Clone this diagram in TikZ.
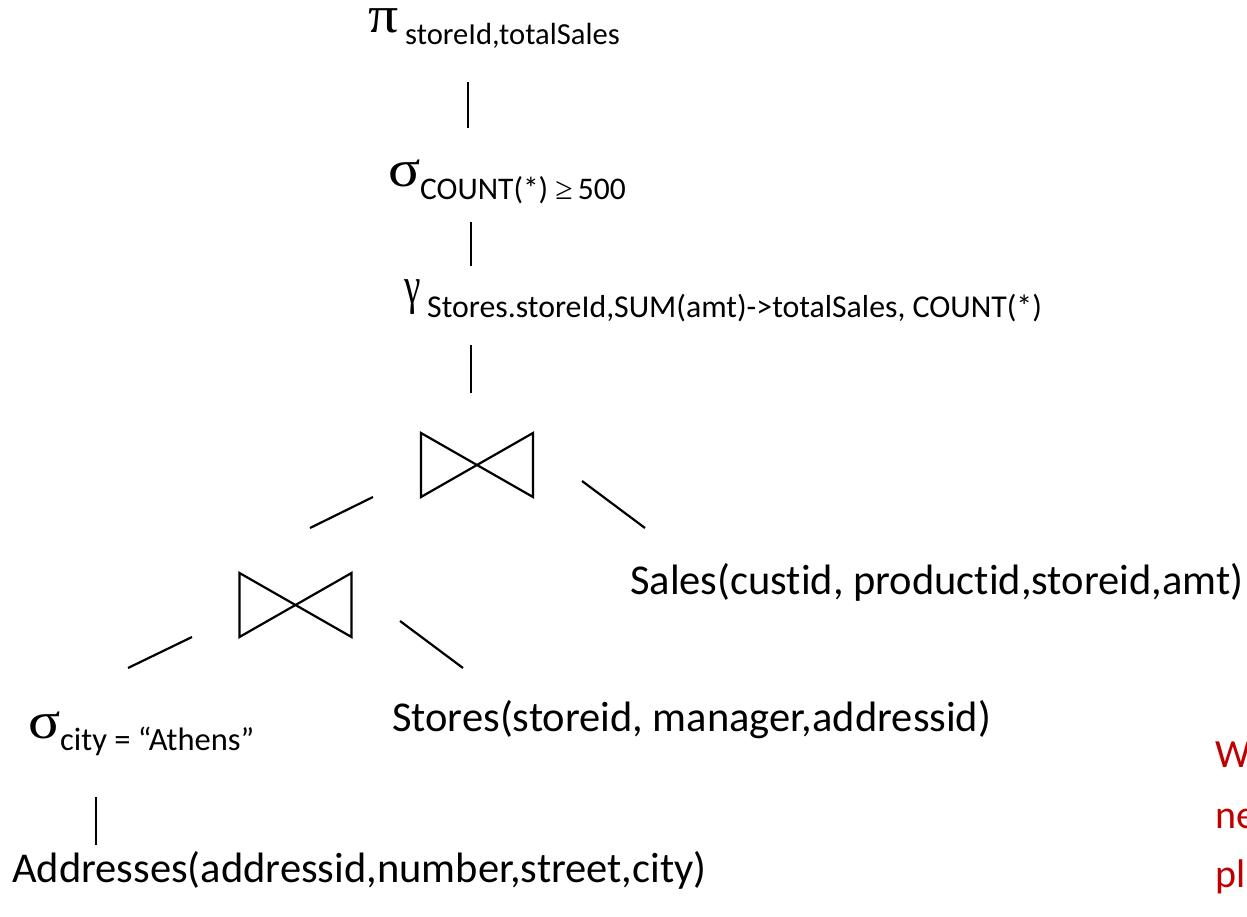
\documentclass[tikz,border=0pt]{standalone}
\usepackage{fontspec}
\setmainfont{Carlito}[Ligatures=NoCommon]
\newfontfamily\greekfont{Liberation Serif}
\definecolor{noteRed}{HTML}{C00000}
\begin{document}
\begin{tikzpicture}[x=1pt,y=-1pt,
  txt/.style={anchor=base west,inner sep=0pt,font=\fontsize{42.5}{50}\selectfont},
  opsym/.style={anchor=base west,inner sep=0pt,xscale=1.15,text height=24pt,
    font=\greekfont\fontsize{52}{52}\selectfont},
  opsub/.style={anchor=base west,inner sep=0pt,font=\fontsize{#1}{#1}\selectfont},
  note/.style={anchor=base west,inner sep=0pt,text=noteRed,font=\fontsize{40}{48}\selectfont},
  edge/.style={line width=2.2pt},
  joinbox/.style={minimum width=112pt,minimum height=64pt,inner sep=0pt,outer sep=0pt},
  bowtie/.style={line width=2.2pt,line join=miter}]
\useasboundingbox (0,0) rectangle (1247,917);

% operators: Greek symbol and its subscript
\node[opsym] (proj) at (368,33) {π};
\node[opsub=30.6] (projsub) at (405,45) {storeId,totalSales};
\node[opsym] (sel) at (388,187) {σ};
\node[opsub=31.5] (selsub) at (420,200) {COUNT(*) {\greekfont ≥}\,500};
\node[opsym,xscale=0.62] (grp) at (404,303) {γ};
\node[opsub=31.8] (grpsub) at (427,317) {Stores.storeId,SUM(amt)->totalSales, COUNT(*)};
\node[opsym] (selcity) at (28,738) {σ};
\node[opsub=32.5] (selcitysub) at (60,750) {city = “Athens”};

% relations
\node[txt] (sales) at (630,594) {Sales(custid, productid,storeid,amt)};
\node[txt] (stores) at (392,731) {Stores(storeid, manager,addressid)};
\node[txt] (addr) at (12,882) {Addresses(addressid,number,street,city)};

% joins
\node[joinbox] (j1) at (477,465) {};
\node[joinbox] (j2) at (295.5,605) {};
\draw[bowtie] (j1.north west) -- (j1.south east) -- (j1.north east) -- (j1.south west) -- cycle;
\draw[bowtie] (j2.north west) -- (j2.south east) -- (j2.north east) -- (j2.south west) -- cycle;

% edge end points
\coordinate (e1a) at (468,82);   \coordinate (e1b) at (468,128);
\coordinate (e2a) at (471,222);  \coordinate (e2b) at (471,266);
\coordinate (e3a) at (471,345);  \coordinate (e3b) at (471,393);
\coordinate (e4a) at (373,497);  \coordinate (e4b) at (310,528);
\coordinate (e5a) at (582,481);  \coordinate (e5b) at (645,528);
\coordinate (e6a) at (192,637);  \coordinate (e6b) at (128,668);
\coordinate (e7a) at (400,621);  \coordinate (e7b) at (463,668);
\coordinate (e8a) at (96,797);   \coordinate (e8b) at (96,845);

\draw[edge] (e1a) -- (e1b);
\draw[edge] (e2a) -- (e2b);
\draw[edge] (e3a) -- (e3b);
\draw[edge] (e4a) -- (e4b);
\draw[edge] (e5a) -- (e5b);
\draw[edge] (e6a) -- (e6b);
\draw[edge] (e7a) -- (e7b);
\draw[edge] (e8a) -- (e8b);

% side note running off the right edge
\begin{scope}
\clip (0,0) rectangle (1247,917);
\node[note] (n1) at (1215,767) {W};
\node[note] (n2) at (1215,828) {ne};
\node[note] (n3) at (1215,887) {pl};
\end{scope}
\end{tikzpicture}
\end{document}
